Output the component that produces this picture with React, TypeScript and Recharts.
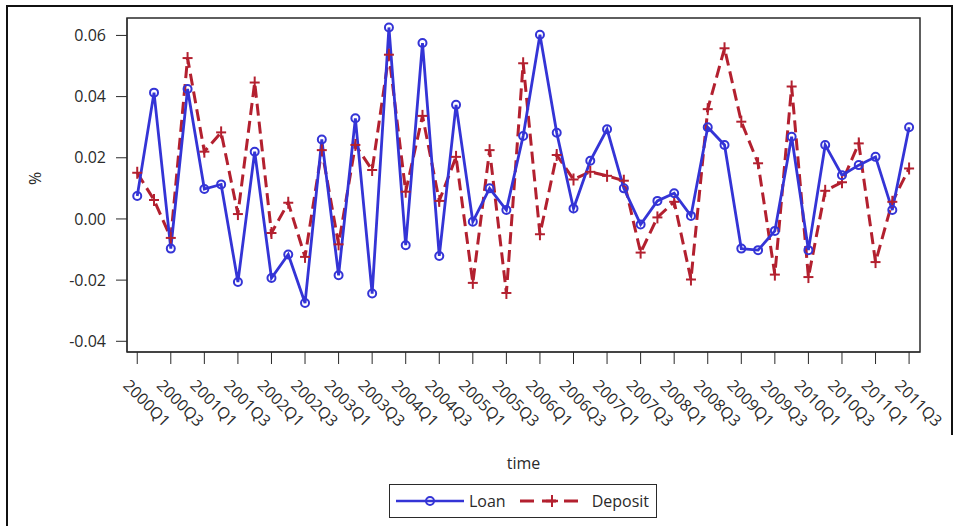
import React from "react";
import { LineChart, Line, XAxis, YAxis, ReferenceArea } from "recharts";

// quarterly growth rates, 2000Q1 .. 2011Q3
const quarters = [
  "2000Q1", "2000Q2", "2000Q3", "2000Q4", "2001Q1", "2001Q2", "2001Q3", "2001Q4",
  "2002Q1", "2002Q2", "2002Q3", "2002Q4", "2003Q1", "2003Q2", "2003Q3", "2003Q4",
  "2004Q1", "2004Q2", "2004Q3", "2004Q4", "2005Q1", "2005Q2", "2005Q3", "2005Q4",
  "2006Q1", "2006Q2", "2006Q3", "2006Q4", "2007Q1", "2007Q2", "2007Q3", "2007Q4",
  "2008Q1", "2008Q2", "2008Q3", "2008Q4", "2009Q1", "2009Q2", "2009Q3", "2009Q4",
  "2010Q1", "2010Q2", "2010Q3", "2010Q4", "2011Q1", "2011Q2", "2011Q3",
];

const loan = [
  0.0075, 0.0413, -0.0097, 0.0425, 0.0098, 0.0113, -0.0206, 0.022,
  -0.0193, -0.0116, -0.0275, 0.026, -0.0184, 0.0329, -0.0244, 0.0626,
  -0.0086, 0.0575, -0.0121, 0.0373, -0.0009, 0.01, 0.0029, 0.0271,
  0.0602, 0.0282, 0.0034, 0.019, 0.0293, 0.01, -0.0018, 0.0059,
  0.0084, 0.001, 0.03, 0.0242, -0.0097, -0.0102, -0.0039, 0.0269,
  -0.0102, 0.0242, 0.0143, 0.0176, 0.0203, 0.0029, 0.03,
];

const deposit = [
  0.0151, 0.0062, -0.0062, 0.0526, 0.022, 0.0283, 0.0016, 0.0446,
  -0.0046, 0.0053, -0.0124, 0.0225, -0.0083, 0.0242, 0.016, 0.0537,
  0.0089, 0.0337, 0.0059, 0.0203, -0.0209, 0.0225, -0.0242, 0.0509,
  -0.005, 0.0209, 0.0129, 0.0154, 0.0141, 0.0125, -0.011, 0.0005,
  0.0056, -0.0198, 0.0359, 0.0558, 0.0318, 0.0182, -0.0182, 0.0433,
  -0.019, 0.0092, 0.012, 0.0247, -0.0141, 0.0056, 0.0165,
];

const yTicks = [-0.04, -0.02, 0, 0.02, 0.04, 0.06];
// every other quarter gets a label (Q1 and Q3)
const xTicks = quarters.map((_, i) => i).filter((i) => i % 2 === 0);

const X_MIN = -0.61;
const X_MAX = 46.65;
const Y_MIN = -0.0435;
const Y_MAX = 0.0657;

const LOAN_COLOR = "#3434d6";
const DEPOSIT_COLOR = "#b3202f";
const INK = "#2a2a2a";
const FONT = "'Open Sans', sans-serif";

const rows = quarters.map((q, i) => ({
  idx: i,
  quarter: q,
  loan: loan[i],
  deposit: deposit[i],
}));

function QuarterTick(props: any) {
  const { x, y, payload } = props;
  return (
    <text
      transform={`translate(${x - 15},${y + 20.5}) rotate(45)`}
      fontSize={16}
      fontFamily={FONT}
      fill={INK}
      textAnchor="start"
    >
      {quarters[payload.value]}
    </text>
  );
}

function PlusDot(props: any) {
  const { cx, cy } = props;
  if (cx == null || cy == null) return null;
  return (
    <g stroke={DEPOSIT_COLOR} strokeWidth={2}>
      <line x1={cx - 5} y1={cy} x2={cx + 5} y2={cy} />
      <line x1={cx} y1={cy - 6} x2={cx} y2={cy + 6} />
    </g>
  );
}

function LegendBox() {
  return (
    <div
      style={{
        position: "absolute",
        left: 389,
        top: 484,
        width: 268,
        height: 34,
        border: `1.5px solid ${INK}`,
        display: "flex",
        alignItems: "center",
        fontFamily: FONT,
        fontSize: 16,
        color: INK,
        boxSizing: "border-box",
      }}
    >
      <svg width={72} height={20} style={{ marginLeft: 5 }}>
        <line x1={1} y1={10} x2={69} y2={10} stroke={LOAN_COLOR} strokeWidth={2.5} />
        <circle cx={35} cy={10} r={4} fill="none" stroke={LOAN_COLOR} strokeWidth={2} />
      </svg>
      <span style={{ marginLeft: 2 }}>Loan</span>
      <svg width={70} height={20} style={{ marginLeft: 12 }}>
        <line
          x1={2}
          y1={10}
          x2={68}
          y2={10}
          stroke={DEPOSIT_COLOR}
          strokeWidth={3}
          strokeDasharray="14 8"
        />
        <line x1={28} y1={10} x2={40} y2={10} stroke={DEPOSIT_COLOR} strokeWidth={2.5} />
        <line x1={34} y1={4} x2={34} y2={16} stroke={DEPOSIT_COLOR} strokeWidth={2} />
      </svg>
      <span style={{ marginLeft: 4 }}>Deposit</span>
    </div>
  );
}

export default function App() {
  return (
    <div
      style={{
        position: "absolute",
        left: 0,
        top: 0,
        width: 961,
        height: 526,
        background: "#fff",
        overflow: "hidden",
      }}
    >
      {/* outer border of the graph window */}
      <div style={{ position: "absolute", left: 6, top: 5, width: 2, height: 521, background: "#111" }} />
      <div style={{ position: "absolute", left: 6, top: 5, width: 947, height: 2, background: "#111" }} />
      <div style={{ position: "absolute", left: 951, top: 5, width: 2, height: 430, background: "#111" }} />

      <LineChart
        width={961}
        height={526}
        data={rows}
        margin={{ top: 18, right: 41, bottom: 0, left: 0 }}
        style={{ position: "absolute", left: 0, top: 0 }}
      >
        <XAxis
          dataKey="idx"
          type="number"
          domain={[X_MIN, X_MAX]}
          ticks={xTicks}
          allowDataOverflow
          height={174}
          tickSize={12}
          tick={<QuarterTick />}
          stroke={INK}
          interval={0}
          label={{
            value: "time",
            position: "insideTop",
            offset: 106,
            fontSize: 16,
            fontFamily: FONT,
            fill: INK,
          }}
        />
        <YAxis
          type="number"
          domain={[Y_MIN, Y_MAX]}
          ticks={yTicks}
          allowDataOverflow
          width={127}
          tickSize={11}
          tickMargin={10}
          stroke={INK}
          tick={{ fontSize: 16, fontFamily: FONT, fill: INK }}
          tickFormatter={(v: number) => v.toFixed(2)}
          label={{
            value: "%",
            angle: -90,
            position: "insideLeft",
            offset: 35,
            fontSize: 16,
            fontFamily: FONT,
            fill: INK,
          }}
        />
        {/* plot-area frame */}
        <ReferenceArea
          x1={X_MIN}
          x2={X_MAX}
          y1={Y_MIN}
          y2={Y_MAX}
          fill="none"
          stroke={INK}
          strokeWidth={1.5}
          ifOverflow="visible"
        />
        <Line
          dataKey="deposit"
          stroke={DEPOSIT_COLOR}
          strokeWidth={3}
          strokeDasharray="12 6"
          dot={<PlusDot />}
          activeDot={false}
          isAnimationActive={false}
        />
        <Line
          dataKey="loan"
          stroke={LOAN_COLOR}
          strokeWidth={2.8}
          dot={{ r: 4, fill: "none", stroke: LOAN_COLOR, strokeWidth: 2 }}
          activeDot={false}
          isAnimationActive={false}
        />
      </LineChart>
      <LegendBox />
    </div>
  );
}
